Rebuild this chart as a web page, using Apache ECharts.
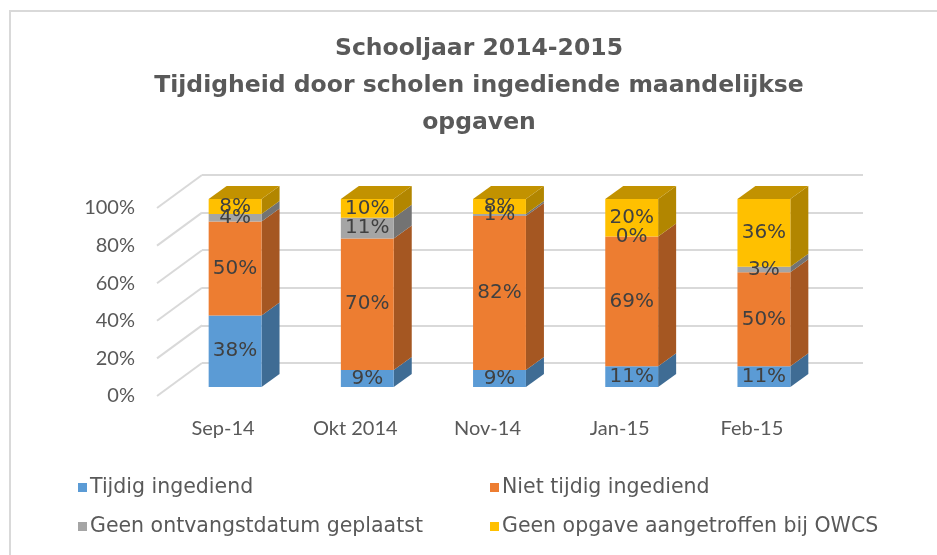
<!DOCTYPE html>
<html style="height: 100%">
<head>
    <meta charset="utf-8">
    <script src="https://cdn.jsdelivr.net/npm/echarts@6/dist/echarts.min.js"></script>
</head>
<body style="height: 100%; margin: 0; background: #fff">
    <div id="main" style="width:937px;height:555px;"></div>
    <script type="text/javascript">
    // data
    var maanden = ['Sep-14', 'Okt 2014', 'Nov-14', 'Jan-15', 'Feb-15'];
    var tijdig = [38, 9, 9, 11, 11];
    var nietTijdig = [50, 70, 82, 69, 50];
    var geenDatum = [4, 11, 1, 0, 3];
    var geenOpgave = [8, 10, 8, 20, 36];
    var yTicks = [0, 20, 40, 60, 80, 100];

    var namen = ['Tijdig ingediend', 'Niet tijdig ingediend', 'Geen ontvangstdatum geplaatst', 'Geen opgave aangetroffen bij OWCS'];
    var reeksen = [tijdig, nietTijdig, geenDatum, geenOpgave];
    var kleuren = ['#5B9BD5', '#ED7D31', '#A5A5A5', '#FFC000'];
    var zijKleuren = ['#3F6C94', '#A55722', '#737373', '#B28600'];
    var topKleuren = ['#4A7DAA', '#BE6427', '#858585', '#C29200'];

    // 3d depth of the bars
    var DX = 18, DY = -13;

    var myChart = echarts.init(document.getElementById('main'));

    // segment start/end per series
    var segs = [];
    for (var i = 0; i < maanden.length; i++) {
        var acc = 0;
        for (var s = 0; s < reeksen.length; s++) {
            var v = reeksen[s][i];
            segs.push([i, acc, acc + v, s, s === reeksen.length - 1 ? 1 : 0]);
            acc += v;
        }
    }

    function renderFaces(params, api) {
        var i = api.value(0), lo = api.value(1), hi = api.value(2), s = api.value(3), isTop = api.value(4);
        var c = api.coord([i, 0]);
        var bw = api.size([1, 0])[0] * 0.4;
        var xl = c[0] - bw / 2, xr = c[0] + bw / 2;
        var yLo = api.coord([i, lo])[1], yHi = api.coord([i, hi])[1];
        var children = [{
            type: 'polygon',
            shape: { points: [[xr, yHi], [xr + DX, yHi + DY], [xr + DX, yLo + DY], [xr, yLo]] },
            style: { fill: zijKleuren[s] }
        }];
        if (isTop) {
            children.push({
                type: 'polygon',
                shape: { points: [[xl, yHi], [xl + DX, yHi + DY], [xr + DX, yHi + DY], [xr, yHi]] },
                style: { fill: topKleuren[s] }
            });
        }
        return { type: 'group', children: children };
    }

    function renderDiag(params, api) {
        var y = api.coord([0, api.value(0)])[1];
        var x = params.coordSys.x;
        return {
            type: 'line',
            shape: { x1: x, y1: y, x2: x - 45, y2: y + 33 },
            style: { stroke: '#D9D9D9', lineWidth: 2 }
        };
    }

    var series = reeksen.map(function (d, s) {
        return {
            name: namen[s],
            type: 'bar',
            stack: 'totaal',
            xAxisIndex: 0,
            yAxisIndex: 0,
            barWidth: '40%',
            data: d,
            itemStyle: { color: kleuren[s] },
            z: 3,
            label: {
                show: true,
                position: 'inside',
                formatter: '{c}%',
                color: '#404040',
                fontFamily: 'DejaVu Sans',
                fontSize: 20
            }
        };
    });
    series.push({
        type: 'custom',
        xAxisIndex: 0,
        yAxisIndex: 0,
        renderItem: renderFaces,
        data: segs,
        silent: true,
        z: 2
    });
    series.push({
        type: 'custom',
        xAxisIndex: 1,
        yAxisIndex: 1,
        renderItem: renderDiag,
        data: yTicks.map(function (t) { return [t]; }),
        encode: { y: 0 },
        silent: true,
        z: 1
    });

    var legendText = { fontFamily: 'DejaVu Sans', fontSize: 20.5, color: '#595959', padding: [0, 0, 0, -2] };

    var option = {
        backgroundColor: '#fff',
        animation: false,
        graphic: [{
            type: 'rect',
            shape: { x: 10, y: 11, width: 1000, height: 600 },
            style: { fill: 'none', stroke: '#D9D9D9', lineWidth: 2 },
            silent: true
        }, {
            type: 'text',
            x: 479,
            y: 30,
            style: {
                text: 'Schooljaar 2014-2015\nTijdigheid door scholen ingediende maandelijkse\nopgaven',
                align: 'center',
                fontFamily: 'DejaVu Sans',
                fontWeight: 'bold',
                fontSize: 23.5,
                lineHeight: 37,
                fill: '#595959'
            }
        }],
        legend: [{
            data: [namen[0], namen[2]],
            orient: 'vertical',
            left: 73,
            top: 472,
            itemGap: 18,
            itemWidth: 9,
            itemHeight: 9,
            icon: 'rect',
            textStyle: legendText
        }, {
            data: [namen[1], namen[3]],
            orient: 'vertical',
            left: 485,
            top: 472,
            itemGap: 18,
            itemWidth: 9,
            itemHeight: 9,
            icon: 'rect',
            textStyle: legendText
        }],
        grid: [
            { left: 169, top: 199, width: 661, height: 188 },  // bar plane
            { left: 202, top: 175, width: 661, height: 188 },  // back wall
            { left: 157, top: 208, width: 661, height: 188 }   // front plane
        ],
        xAxis: [
            { type: 'category', gridIndex: 0, data: maanden, show: false },
            { type: 'category', gridIndex: 1, data: maanden, show: false },
            {
                type: 'category', gridIndex: 2, data: maanden,
                axisLine: { show: false }, axisTick: { show: false },
                axisLabel: { margin: 23, fontFamily: 'Lato', fontSize: 20, color: '#595959' }
            }
        ],
        yAxis: [
            { type: 'value', gridIndex: 0, min: 0, max: 100, interval: 20, show: false },
            {
                type: 'value', gridIndex: 1, min: 0, max: 100, interval: 20,
                axisLabel: { show: false }, axisLine: { show: false }, axisTick: { show: false },
                splitLine: { lineStyle: { color: '#D9D9D9', width: 2 } }
            },
            {
                type: 'value', gridIndex: 2, min: 0, max: 100, interval: 20,
                axisLine: { show: false }, axisTick: { show: false }, splitLine: { show: false },
                axisLabel: { formatter: '{value}%', margin: 22, fontFamily: 'Lato', fontSize: 20, color: '#595959' }
            }
        ],
        series: series
    };

    myChart.setOption(option, true);
    </script>
</body>
</html>
